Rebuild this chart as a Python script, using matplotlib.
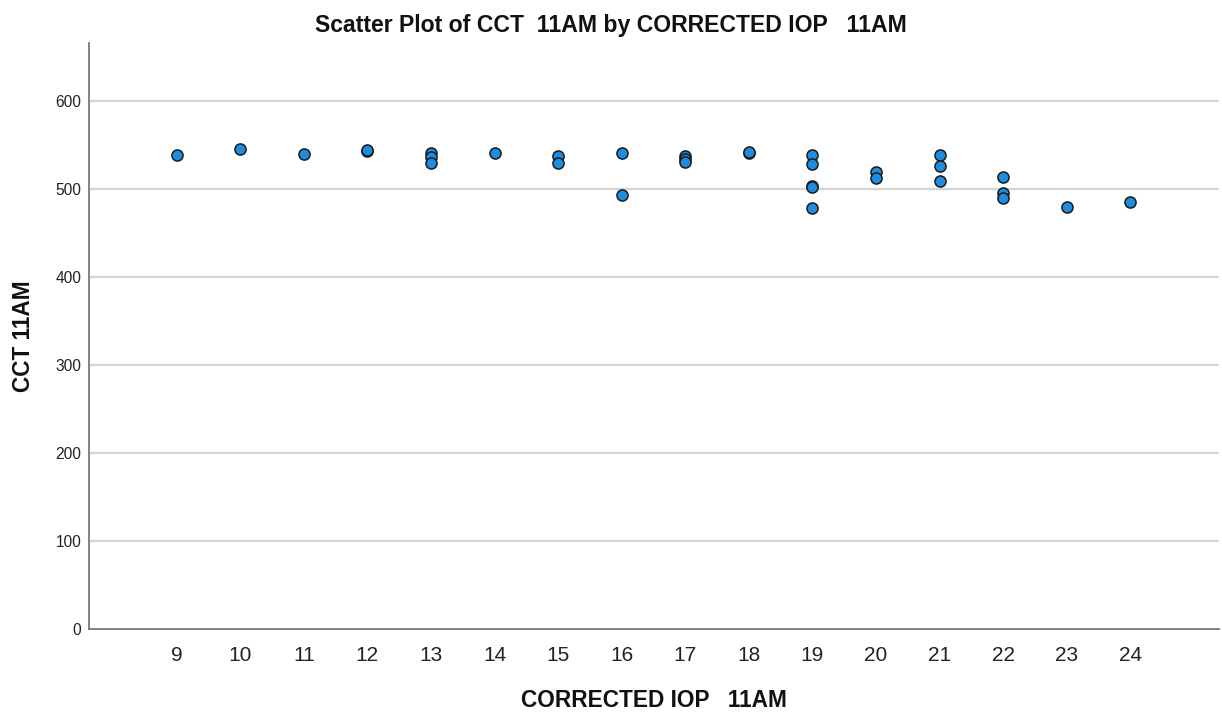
import matplotlib
matplotlib.use("Agg")
import matplotlib.pyplot as plt

plt.rcParams['font.family'] = ['Liberation Sans', 'DejaVu Sans']

iop = [9, 10, 11, 12, 12, 13, 13, 13, 14, 15, 15, 16, 16, 17, 17, 17, 18, 18,
       19, 19, 19, 19, 19, 20, 20, 21, 21, 21, 22, 22, 22, 23, 24]
cct = [539, 545, 540, 543, 544, 541, 536, 529, 541, 537, 530, 541, 493, 537, 534, 531, 541, 542,
       539, 528, 503, 502, 478, 519, 513, 539, 526, 509, 514, 495, 490, 480, 485]

x_ticks = list(range(9, 25))
y_ticks = [0, 100, 200, 300, 400, 500, 600]

fig = plt.figure(figsize=(12.22, 7.13), dpi=100)
ax = fig.add_axes([0.0728, 0.1178, 0.925, 0.822])

ax.set_xlim(7.62, 25.4)
ax.set_ylim(0, 666)
ax.set_xticks(x_ticks)
ax.set_xticklabels([str(t) for t in x_ticks], fontsize=15, color='#222222')
ax.set_yticks(y_ticks)
ax.set_yticklabels([str(t) for t in y_ticks], fontsize=11.2, color='#222222')
ax.tick_params(axis='both', length=0)
ax.tick_params(axis='x', pad=12)
ax.tick_params(axis='y', pad=5.5)

for t in y_ticks[1:]:
    ax.axhline(t, color='#d4d4d4', linewidth=1.6, zorder=1)

for side in ['top', 'right']:
    ax.spines[side].set_visible(False)
for side in ['left', 'bottom']:
    ax.spines[side].set_color('#777777')
    ax.spines[side].set_linewidth(1.3)

ax.scatter(iop, cct, s=64, facecolor='#1e8ce0', edgecolor='#1a1a1a', linewidth=1.1, zorder=3)

fig.text(0.5, 1 - 32 / 713, 'Scatter Plot of CCT  11AM by CORRECTED IOP   11AM', fontsize=16.6,
         fontweight='bold', ha='center', va='baseline', color='#111111')
ax.set_xlabel('CORRECTED IOP   11AM', fontsize=16.3, fontweight='bold', labelpad=17.5, color='#111111')
ax.set_ylabel('CCT 11AM', fontsize=16.3, fontweight='bold', labelpad=14.5, color='#111111')

fig.savefig('out.png', dpi=100)
